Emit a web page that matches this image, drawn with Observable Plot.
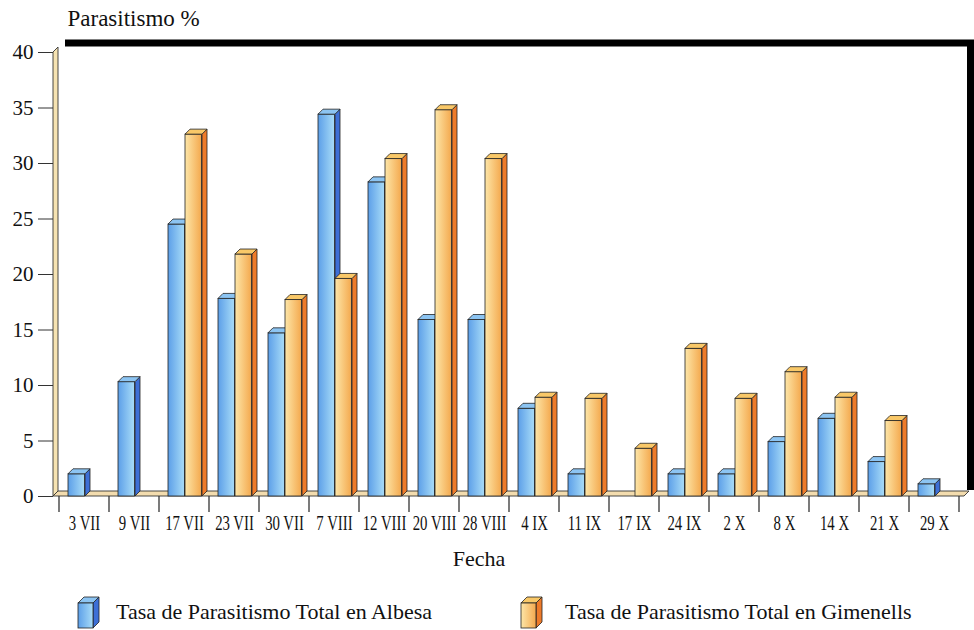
<!DOCTYPE html>
<html><head><meta charset="utf-8">
<script src="https://cdn.jsdelivr.net/npm/d3@7"></script>
<script src="https://cdn.jsdelivr.net/npm/@observablehq/plot@0.6"></script>
<style>
body{margin:0;background:#fff;font-family:"Liberation Serif","Times New Roman",serif;}
#wrap{position:relative;width:974px;height:630px;overflow:hidden;}
#legend{position:absolute;left:0;top:585px;width:974px;height:45px;font-size:22px;color:#111;}
.item{position:absolute;top:10px;display:flex;align-items:center;}
.item svg{margin-right:14px;}
</style></head><body>
<svg width="0" height="0" style="position:absolute">
 <defs>
  <linearGradient id="gBlue" x1="0" x2="1" y1="0" y2="0">
   <stop offset="0" stop-color="#5c9fe8"/><stop offset="1" stop-color="#a8dcf8"/>
  </linearGradient>
  <linearGradient id="gOrange" x1="0" x2="1" y1="0" y2="0">
   <stop offset="0" stop-color="#fde6a8"/><stop offset="1" stop-color="#f4a94e"/>
  </linearGradient>
 </defs>
</svg>
<div id="wrap"><div id="chart"></div>
<div id="legend">
 <div class="item" style="left:76px">
  <svg width="26" height="34"><polygon points="17,8 23,2 23,27 17,33" fill="#3d6fd6" stroke="#222" stroke-width="0.8"/><polygon points="2,8 17,8 23,2 8,2" fill="#8cc4f2" stroke="#222" stroke-width="0.8"/><rect x="2" y="8" width="15" height="25" fill="url(#gBlue)" stroke="#222" stroke-width="0.8"/></svg>
  <span>Tasa de Parasitismo Total en Albesa</span></div>
 <div class="item" style="left:519px">
  <svg width="26" height="34"><polygon points="17,8 23,2 23,27 17,33" fill="#ee7b2a" stroke="#222" stroke-width="0.8"/><polygon points="2,8 17,8 23,2 8,2" fill="#f9c868" stroke="#222" stroke-width="0.8"/><rect x="2" y="8" width="15" height="25" fill="url(#gOrange)" stroke="#222" stroke-width="0.8"/></svg>
  <span style="margin-left:6px">Tasa de Parasitismo Total en Gimenells</span></div>
</div></div>
<script>
// ---- data ----
const fechas = ["3 VII","9 VII","17 VII","23 VII","30 VII","7 VIII","12 VIII","20 VIII","28 VIII","4 IX","11 IX","17 IX","24 IX","2 X","8 X","14 X","21 X","29 X"];
const albesa    = [2.0,10.3,24.5,17.8,14.7,34.4,28.3,15.9,15.9,7.9,2.0,0,2.0,2.0,4.9,7.0,3.1,1.1];
const gimenells = [0,0,32.6,21.8,17.7,19.6,30.4,34.8,30.4,8.9,8.8,4.3,13.3,8.8,11.2,8.9,6.8,0];
const yTicks = [0,5,10,15,20,25,30,35,40];
const series = ["Tasa de Parasitismo Total en Albesa","Tasa de Parasitismo Total en Gimenells"];

const rows = [];
fechas.forEach((f,i)=>{
  rows.push({fecha:f, serie:series[0], v:albesa[i]});
  rows.push({fecha:f, serie:series[1], v:gimenells[i]});
});
const blueRows = rows.filter(d=>d.serie===series[0] && d.v>0);
const orangeRows = rows.filter(d=>d.serie===series[1] && d.v>0);

const W=974, H=585, ML=53, MR=10, MT=52, MB=89;
const BW=(W-ML-MR)/fechas.length;
const D=5; // 3D depth
const blueL=9, blueR=26, orL=26, orR=43;

function bw(x){ return typeof x.bandwidth==="function" ? x.bandwidth() : (x.bandwidth ?? BW); }

function background(index, scales, values, dim){
  const x=scales.x, y=scales.y;
  const g=d3.create("svg:g");
  const y0=y(0), yTop=y(40), x0=dim.marginLeft, x1=dim.width-dim.marginRight;
  g.append("path").attr("d",`M${x0+12},${yTop-9}H${dim.width}`).attr("stroke","#000").attr("stroke-width",7).attr("fill","none");
  g.append("path").attr("d",`M${dim.width-3.5},${yTop-12}V${y0-6}`).attr("stroke","#000").attr("stroke-width",7).attr("fill","none");
  g.append("polygon").attr("points",`${x0},${y0} ${x0},${yTop} ${x0+D},${yTop-D} ${x0+D},${y0-D}`)
    .attr("fill","#f6e3b2").attr("stroke","#333").attr("stroke-width",0.9);
  g.append("polygon").attr("points",`${x0},${y0} ${x1},${y0} ${x1+D},${y0-D} ${x0+D},${y0-D}`)
    .attr("fill","#f3dcae").attr("stroke","#333").attr("stroke-width",0.9);
  const b=bw(x);
  const edges=fechas.map(f=>x(f)).concat([x(fechas[fechas.length-1])+b]);
  edges.forEach(e=>g.append("line").attr("x1",e).attr("x2",e).attr("y1",y0).attr("y2",y0+16).attr("stroke","#333").attr("stroke-width",1.3));
  return g.node();
}

function sides(data, l, r, sideCol, topCol){
  return (index, scales, values, dim)=>{
    const x=scales.x, y=scales.y;
    const g=d3.create("svg:g");
    data.forEach(d=>{
      const L=x(d.fecha)+l, R=x(d.fecha)+r, T=y(d.v), B=y(0);
      g.append("polygon").attr("points",`${R},${B} ${R},${T} ${R+D},${T-D} ${R+D},${B-D}`)
        .attr("fill",sideCol).attr("stroke","#222").attr("stroke-width",0.8);
      g.append("polygon").attr("points",`${L},${T} ${R},${T} ${R+D},${T-D} ${L+D},${T-D}`)
        .attr("fill",topCol).attr("stroke","#222").attr("stroke-width",0.8);
    });
    return g.node();
  };
}

const chart = Plot.plot({
  width: W, height: H,
  marginLeft: ML, marginRight: MR, marginTop: MT, marginBottom: MB,
  style: {fontFamily: '"Liberation Serif","Times New Roman",serif', color:"#111", background:"transparent"},
  x: {domain: fechas, padding: 0, label: null},
  y: {domain: [0,40], label: null},
  marks: [
    background,
    Plot.axisY({ticks: yTicks, tickSize: 15, tickPadding: 5, fontSize: 21, label: null, stroke:"#333"}),
    Plot.axisX({tickSize: 0, tickPadding: 19, fontSize: 20, label: null}),
    Plot.barY(blueRows, {x:"fecha", y:"v", fill:"url(#gBlue)", stroke:"#222", strokeWidth:0.8, insetLeft: blueL, insetRight: BW-blueR}),
    sides(blueRows, blueL, blueR, "#3d6fd6", "#8cc4f2"),
    Plot.barY(orangeRows, {x:"fecha", y:"v", fill:"url(#gOrange)", stroke:"#222", strokeWidth:0.8, insetLeft: orL, insetRight: BW-orR}),
    sides(orangeRows, orL, orR, "#ee7b2a", "#f9c868"),
    Plot.text(["Parasitismo %"], {text: d=>d, frameAnchor:"top-left", textAnchor:"start", lineAnchor:"middle", dx: 14, dy: -34, fontSize: 23}),
    Plot.text(["Fecha"], {text: d=>d, frameAnchor:"bottom", lineAnchor:"middle", dx: -30, dy: 62, fontSize: 22})
  ]
});
document.getElementById("chart").appendChild(chart);
d3.select(chart).selectAll('g[aria-label="x-axis tick label"] text').each(function(){
  const t=this.getAttribute("transform")||"";
  this.setAttribute("transform", t+" scale(0.74,1)");
});
</script></body></html>
